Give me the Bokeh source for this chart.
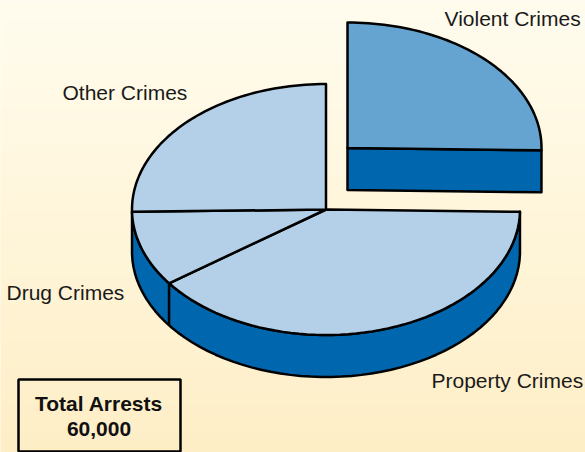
import numpy as np
from bokeh.plotting import figure
from bokeh.core.properties import value
from bokeh.embed import file_html
from bokeh.resources import INLINE

categories = ["Violent Crimes", "Property Crimes", "Drug Crimes", "Other Crimes"]
shares = [25.3, 39.7, 9.7, 25.3]
total_label = ["Total Arrests", "60,000"]

TOP = "#B3D0E8"; TOP_EXPL = "#65A4D0"; SIDE = "#0066AE"; INK = "#000000"
CX, CY, RX, RY, DEPTH = 325.5, 209.0, 194.0, 125.5, 42.0
EX_DX, EX_DY = 21.5, -61.5

p = figure(width=585, height=452, x_range=(0, 585), y_range=(452, 0),
           output_backend="svg", toolbar_location=None, min_border=0,
           outline_line_color=None, border_fill_color="#fffcee",
           background_fill_color="#fffcee")
p.xaxis.visible = False
p.yaxis.visible = False
p.grid.visible = False

# background gradient
n = 113
ys = np.linspace(0, 452, n + 1)
c0 = np.array([255, 252, 238]); c1 = np.array([254, 238, 198])
cols = ["#%02x%02x%02x" % tuple(int(round(v)) for v in c0 + (c1 - c0) * (i / (n - 1))) for i in range(n)]
p.quad(left=-2, right=587, top=ys[:-1], bottom=ys[1:] + 0.5, fill_color=cols, line_color=None)

def arc(a0, a1, cx, cy, m=60):
    t = np.radians(np.linspace(a0, a1, m))
    return cx + RX * np.cos(t), cy + RY * np.sin(t)

def outline(xs, ys, fill):
    p.patch(list(xs), list(ys), fill_color=fill, line_color=INK, line_width=2.5, line_join="round")

bounds = np.cumsum([0] + shares) / sum(shares) * 360 - 90
slices = {c: (bounds[i], bounds[i + 1]) for i, c in enumerate(categories)}

# side wall of main body: visible front from property start to drug end
a0, a1 = slices["Property Crimes"][0], slices["Drug Crimes"][1]
x, y = arc(a0, a1, CX, CY)
outline(np.r_[x, x[::-1]], np.r_[y, y[::-1] + DEPTH], SIDE)
# wall divider between property and drug slices
bx = arc(slices["Drug Crimes"][0], slices["Drug Crimes"][0], CX, CY, 1)
p.line([bx[0][0], bx[0][0]], [bx[1][0], bx[1][0] + DEPTH], line_color=INK, line_width=2.5)

# tops of main body
for c in categories[1:]:
    x, y = arc(*slices[c], CX, CY)
    outline(np.r_[CX, x], np.r_[CY, y], TOP)

# exploded slice
a0, a1 = slices["Violent Crimes"]
ex, ey = CX + EX_DX, CY + EX_DY
x, y = arc(a0, a1, ex, ey)
rx_end, ry_end = x[-1], y[-1]
outline([ex, rx_end, rx_end, ex], [ey, ry_end, ry_end + DEPTH, ey + DEPTH], SIDE)
outline(np.r_[ex, x], np.r_[ey, y], TOP_EXPL)

# labels
font = value("Liberation Sans")
lab_x = [444, 431, 6, 62]
lab_y = [18, 380, 292, 92]
p.text(lab_x, lab_y, text=categories, text_font=font, text_font_size="21px",
       text_color="#1a1a1a", text_baseline="middle", text_align="left")

# total box
p.quad(left=[18], right=[180], top=[379], bottom=[451], fill_color=None, line_color=INK, line_width=2.5)
p.text([98.5, 98.5], [403, 428], text=total_label, text_font=font, text_font_size="21px",
       text_font_style="bold", text_color="#111111", text_baseline="middle", text_align="center")

open("out.html", "w").write(file_html(p, INLINE))
